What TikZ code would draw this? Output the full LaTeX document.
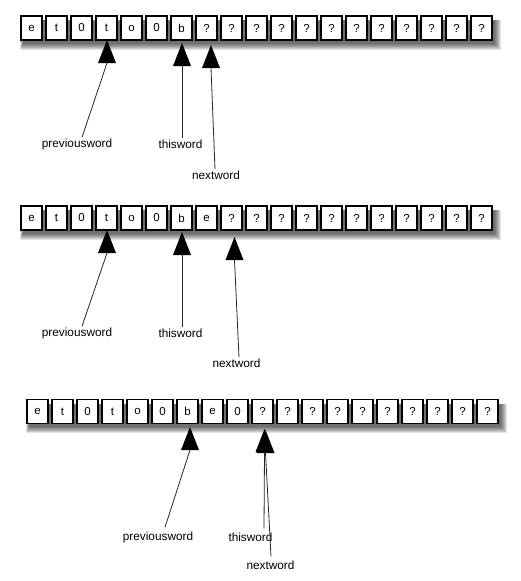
\documentclass[tikz,border=0pt]{standalone}
\usepackage{fontspec}
\setmainfont{Liberation Sans}
\usetikzlibrary{calc}
\begin{document}
\begin{tikzpicture}[x=1pt,y=-1pt,
  cell/.style={draw=black,line width=1.4pt,fill=white,minimum width=21pt,minimum height=24pt,inner sep=0pt,font=\fontsize{11.5}{13}\selectfont},
  lbl/.style={inner sep=1pt,font=\fontsize{11.8}{14}\selectfont},
  conn/.style={draw=black!85,line width=0.8pt},
  pics/ahead/.style={code={\fill[black] (0,0) -- (-9,23) -- (9,23) -- cycle; \coordinate (-base) at (0,23);}}]
\useasboundingbox (0,0) rectangle (520,581);
% shadows
\foreach \xa/\xb/\ya/\yb in {21/492/16/40, 21/492/206/230, 27/498/400/423}{
  \foreach \e in {0,1,...,6}{
    \fill[black,opacity=0.11] (\xa+2-\e/2,\ya+4) rectangle (\xb+3+\e,\yb+4+\e);
  }
}
% row 1
\foreach \c [count=\i from 0] in {e,t,0,t,o,0,b,?,?,?,?,?,?,?,?,?,?,?,?}
  \node[cell] (a\i) at (31.5+25*\i,28) {\c};
% row 2
\foreach \c [count=\i from 0] in {e,t,0,t,o,0,b,e,?,?,?,?,?,?,?,?,?,?,?}
  \node[cell] (b\i) at (31.5+25*\i,218) {\c};
% row 3
\foreach \c [count=\i from 0] in {e,t,0,t,o,0,b,e,0,?,?,?,?,?,?,?,?,?,?}
  \node[cell] (c\i) at (37.5+25*\i,411.5) {\c};

% labels
\node[lbl] (pw1) at (77,144) {previousword};
\node[lbl] (tw1) at (180.5,144) {thisword};
\node[lbl] (nw1) at (216,175) {nextword};
\node[lbl] (pw2) at (77,333) {previousword};
\node[lbl] (tw2) at (180.5,333) {thisword};
\node[lbl] (nw2) at (236.5,363) {nextword};
\node[lbl] (pw3) at (158,537) {previousword};
\node[lbl] (tw3) at (250.5,537) {thisword};
\node[lbl] (nw3) at (270.5,565) {nextword};

% arrowheads
\pic (hp1) at (107,40) {ahead};
\pic (ht1) at (182,43) {ahead};
\pic (hn1) at (211,45) {ahead};
\pic (hp2) at (107,230) {ahead};
\pic (ht2) at (182,232) {ahead};
\pic (hn2) at (234.5,237) {ahead};
\pic (hp3) at (190,427) {ahead};
\pic (ht3) at (264.5,429) {ahead};
\pic (hn3) at (265.5,430) {ahead};

% connectors
\draw[conn] (hp1-base) -- ([xshift=5pt]pw1.north);
\draw[conn] (ht1-base) -- ([xshift=1.5pt]tw1.north);
\draw[conn] (hn1-base) -- ([xshift=-1pt]nw1.north);
\draw[conn] (hp2-base) -- ([xshift=5pt]pw2.north);
\draw[conn] (ht2-base) -- ([xshift=1.5pt]tw2.north);
\draw[conn] (hn2-base) -- ([xshift=2.5pt]nw2.north);
\draw[conn] (hp3-base) -- ([xshift=7pt,yshift=3pt]pw3.north);
\draw[conn] (ht3-base) -- ([xshift=13.5pt,yshift=3pt]tw3.north);
\draw[conn] (hn3-base) -- ([xshift=0.5pt,yshift=3pt]nw3.north);
\end{tikzpicture}
\end{document}
